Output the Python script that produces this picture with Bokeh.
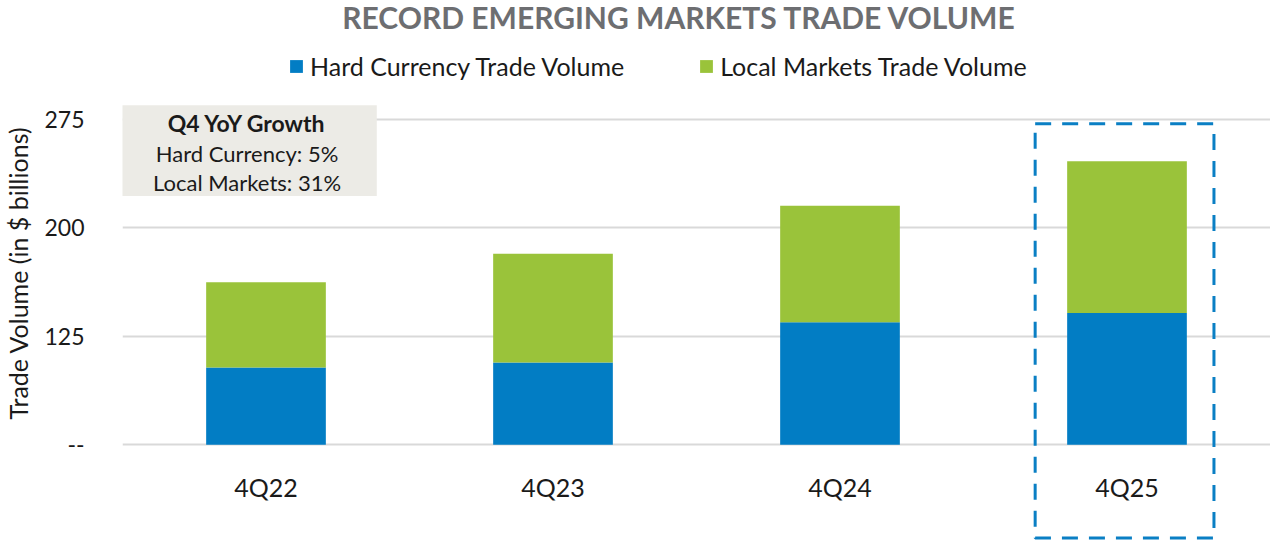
from bokeh.plotting import figure
from bokeh.models import (Range1d, FixedTicker, Legend, LegendItem, BoxAnnotation, Label, ColumnDataSource)
from bokeh.core.properties import value
from bokeh.embed import file_html
from bokeh.resources import INLINE

# ---- data ----
categories = ["4Q22", "4Q23", "4Q24", "4Q25"]
hard_currency = [103.5, 106.9, 134.8, 141.1]
local_markets = [59.0, 75.3, 80.6, 105.1]
y_ticks = [50, 125, 200, 275]
y_tick_labels = ["--", "125", "200", "275"]
highlight_index = 3
title_text = "RECORD EMERGING MARKETS TRADE VOLUME"
growth_title = "Q4 YoY Growth"
growth_lines = ["Hard Currency: 5%", "Local Markets: 31%"]

BLUE = "#027DC4"
GREEN = "#9AC33A"
FONT = "Lato"
TXT = "#1A1A1A"

axis_floor = y_ticks[0]
x = list(range(len(categories)))
totals = [h + l for h, l in zip(hard_currency, local_markets)]
src = ColumnDataSource(dict(x=x, hard=hard_currency, total=totals, floor=[axis_floor] * len(x)))

# the frame covers the whole height so that the title, legend, info box and the
# dashed highlight (which reaches below the category labels) are not clipped
p = figure(width=1270, height=545, output_backend="svg", toolbar_location=None,
           x_range=Range1d(-0.5, 3.5), y_range=Range1d(-19.67, 357.33),
           x_axis_location=None, title=None)
p.min_border_left = 122
p.min_border_right = 0
p.min_border_top = 0
p.min_border_bottom = 0
p.outline_line_color = None
p.background_fill_color = "white"

r_hard = p.vbar(x="x", bottom="floor", top="hard", width=0.417, source=src,
                fill_color=BLUE, line_color=None)
r_local = p.vbar(x="x", bottom="hard", top="total", width=0.417, source=src,
                 fill_color=GREEN, line_color=None)

# y axis
p.xgrid.grid_line_color = None
p.ygrid.grid_line_color = "#D9D9D9"
p.ygrid.grid_line_width = 2
p.yaxis.ticker = FixedTicker(ticks=y_ticks)
p.yaxis.major_label_overrides = {t: s for t, s in zip(y_ticks, y_tick_labels)}
p.yaxis.axis_line_color = None
p.yaxis.major_tick_line_color = None
p.yaxis.minor_tick_line_color = None
p.yaxis.major_label_text_font = FONT
p.yaxis.major_label_text_font_size = "23px"
p.yaxis.major_label_text_color = TXT
p.yaxis.major_label_text_align = "right"
p.yaxis.major_label_standoff = 32
p.yaxis.axis_label = "Trade Volume (in $ billions)"
p.yaxis.axis_label_text_font = FONT
p.yaxis.axis_label_text_font_size = "25px"
p.yaxis.axis_label_text_font_style = "normal"
p.yaxis.axis_label_text_color = TXT
p.yaxis.axis_label_standoff = 8

# title
p.add_layout(Label(x=1.4408, y=345.6, text=title_text, text_align="center", text_baseline="middle",
                   text_font=FONT, text_font_size="30px", text_font_style="bold",
                   text_color="#6D6E71"))

# category labels below the baseline
cat_src = ColumnDataSource(dict(x=x, y=[20.5] * len(x), label=categories))
p.text(x="x", y="y", text="label", source=cat_src, text_align="center", text_baseline="middle",
       text_font=value(FONT), text_font_size="25px", text_color=TXT)

# legend (in screen units, above the bars)
legend = Legend(items=[LegendItem(label="Hard Currency Trade Volume", renderers=[r_hard]),
                       LegendItem(label="Local Markets Trade Volume", renderers=[r_local])],
                orientation="horizontal", location=(166, 464))
legend.glyph_width = 16
legend.glyph_height = 16
legend.label_standoff = 6
legend.spacing = 74
legend.padding = 0
legend.margin = 0
legend.border_line_color = None
legend.background_fill_alpha = 0
legend.label_text_font = FONT
legend.label_text_font_size = "25px"
legend.label_text_color = TXT
p.add_layout(legend)

# info box
info = BoxAnnotation(left=-0.51, right=0.386, top=284.8, bottom=222.1,
                     fill_color="#ECEBE6", fill_alpha=1, line_color=None, level="underlay")
p.add_layout(info)
p.add_layout(Label(x=-0.066, y=272.3, text=growth_title, text_align="center", text_baseline="middle",
                   text_font=FONT, text_font_size="23px", text_font_style="bold", text_color=TXT))
for yy, t in zip([251.5, 231.5], growth_lines):
    p.add_layout(Label(x=-0.066, y=yy, text=t, text_align="center", text_baseline="middle",
                       text_font=FONT, text_font_size="22px", text_color=TXT))

# highlight dashed box around latest quarter
hl = BoxAnnotation(left=highlight_index - 0.32, right=highlight_index + 0.303, top=272, bottom=-14.5,
                   fill_alpha=0, line_color="#0A7FC4", line_alpha=1, line_width=3, line_dash="16 11")
p.add_layout(hl)

open("out.html", "w").write(file_html(p, INLINE))
